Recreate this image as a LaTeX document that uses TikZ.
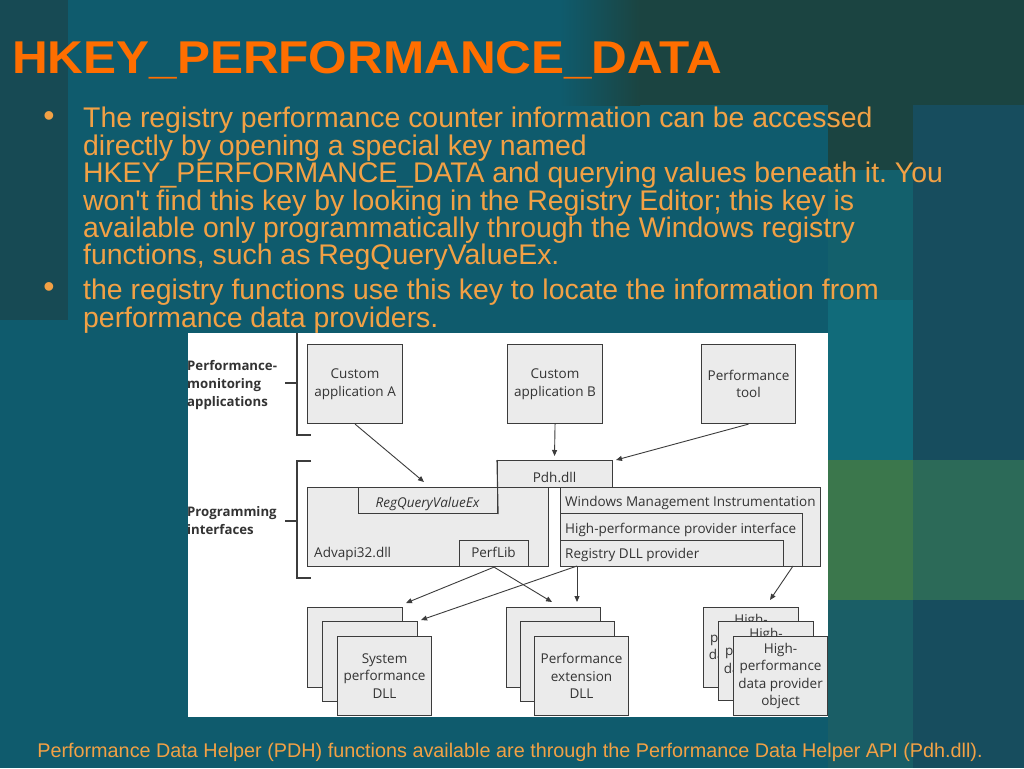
\documentclass[tikz,border=0pt]{standalone}
\usepackage{fontspec}
\usepackage{graphicx}
\setmainfont{Liberation Sans}[Ligatures=TeXOff]
\newfontfamily\dfont{Open Sans}
\usetikzlibrary{arrows.meta,calc}
\definecolor{bgbase}{HTML}{0F5B6D}
\definecolor{bgleft}{HTML}{174A54}
\definecolor{bgtopr}{HTML}{1B4441}
\definecolor{bgstrip}{HTML}{174D5E}
\definecolor{bgteal}{HTML}{13606C}
\definecolor{bglight}{HTML}{116B7A}
\definecolor{bggreen}{HTML}{3B774C}
\definecolor{bggreen2}{HTML}{2C6A58}
\definecolor{bglow}{HTML}{1A5E66}
\definecolor{titleor}{HTML}{FF6E00}
\definecolor{bodyor}{HTML}{F2A145}
\definecolor{boxfill}{HTML}{EBEBEB}
\definecolor{boxline}{HTML}{3C3C3C}
\definecolor{txtgray}{HTML}{333333}
\frenchspacing
\begin{document}
\begin{tikzpicture}[x=1pt,y=-1pt,
  box/.style={draw=boxline, fill=boxfill, line width=1.1pt, inner sep=0pt,
    anchor=north west, align=center, text=txtgray,
    font=\dfont\fontsize{13.5}{17.5}\selectfont},
  bx/.style 2 args={box, minimum width=#1, minimum height=#2},
  lbl/.style={inner sep=0pt, anchor=base west, text=txtgray,
    font=\dfont\fontsize{13.5}{17.5}\selectfont},
  side/.style={inner sep=0pt, anchor=west, align=left, text=txtgray,
    font=\dfont\bfseries\fontsize{13.2}{18}\selectfont},
  brk/.style={draw=boxline, line width=1.1pt},
  arr/.style={draw=boxline, line width=0.9pt, -{Triangle[length=6pt,width=5pt]}},
  body/.style={inner sep=0pt, anchor=base west, text=bodyor,
    font=\fontsize{28.4}{28.4}\selectfont},
  bul/.style={inner sep=0pt, text=bodyor, font=\fontsize{32}{32}\selectfont}]
\useasboundingbox (0,0) rectangle (1024,768);
% ---------- background ----------
\fill[bgbase] (0,0) rectangle (1024,768);
\fill[bgleft] (0,0) rectangle (68,320);
\fill[bgtopr] (640,0) rectangle (1024,105);
\fill[left color=bgbase, right color=bgtopr] (560,0) rectangle (640,105);
\fill[bgstrip] (913,105) rectangle (1024,768);
\fill[bgtopr] (828,105) rectangle (913,170);
\fill[bgteal] (828,170) rectangle (913,300);
\fill[bglight] (828,300) rectangle (913,460);
\fill[bggreen] (828,460) rectangle (913,600);
\fill[bggreen2] (913,460) rectangle (1024,600);
\fill[bglow] (828,600) rectangle (913,768);
% ---------- title and text ----------
\node[inner sep=0pt, anchor=base west, text=titleor,
  font=\bfseries\fontsize{46}{46}\selectfont] (title) at (12,73)
  {\scalebox{1.075}[1]{HKEY\_PERFORMANCE\_DATA}};
\node[bul] (b1) at (49,119) {•};
\node[bul] (b2) at (49,290) {•};
\node[body] (l1) at (83,127) {The registry performance counter information can be accessed};
\node[body] (l2) at (83,155) {directly by opening a special key named};
\node[body] (l3) at (83,182) {HKEY\_PERFORMANCE\_DATA and querying values beneath it. You};
\node[body] (l4) at (83,210) {won't find this key by looking in the Registry Editor; this key is};
\node[body] (l5) at (83,237) {available only programmatically through the Windows registry};
\node[body] (l6) at (83,264) {functions, such as RegQueryValueEx.};
\node[body] (l7) at (83,299) {the registry functions use this key to locate the information from};
\node[body] (l8) at (83,327) {performance data providers.};
\node[inner sep=0pt, anchor=base, text=bodyor, font=\fontsize{19.8}{19.8}\selectfont]
  (foot) at (510,757) {Performance Data Helper (PDH) functions available are through the Performance Data Helper API (Pdh.dll).};
% ---------- diagram ----------
\fill[white] (188,333) rectangle (828,717);
% brackets
\coordinate (k1a) at (297,333); \coordinate (k1b) at (297,435); \coordinate (k1c) at (311,435);
\coordinate (k1m) at (297,383); \coordinate (k1n) at (285,383);
\draw[brk] (k1a) -- (k1b) -- (k1c);
\draw[brk] (k1m) -- (k1n);
\coordinate (k2t) at (311,461); \coordinate (k2a) at (297,461); \coordinate (k2b) at (297,578);
\coordinate (k2c) at (311,578); \coordinate (k2m) at (297,521); \coordinate (k2n) at (285,521);
\draw[brk] (k2t) -- (k2a) -- (k2b) -- (k2c);
\draw[brk] (k2m) -- (k2n);
\node[side] (sl1) at (187,385) {Performance-\\monitoring\\applications};
\node[side] (sl2) at (187,521) {Programming\\interfaces};
% top applications
\node[bx={95}{79}] (appA) at (307,344) {Custom\\application A};
\node[bx={95}{79}] (appB) at (507,344) {Custom\\application B};
\node[bx={94}{79}] (ptool) at (701,344) {Performance\\tool};
% programming interfaces
\node[bx={115}{27}] (pdh) at (497,460) {};
\node[bx={241}{79}] (adv) at (307,487) {};
\node[bx={260}{79}] (wmi) at (560,487) {};
\node[bx={242}{53}] (hpi) at (560,513) {};
\node[bx={223}{26}] (regdll) at (560,540) {};
\node[bx={69}{26}] (perflib) at (459,540) {};
\node[bx={139}{26}] (regq) at (358,487) {};
\draw[boxline, line width=1.1pt] (pdh.north west) -- (regq.south east);
\node[lbl, anchor=base] (pdhl) at (554.5,482) {Pdh.dll};
\node[lbl, anchor=base] (regql) at (427.5,507) {\itshape RegQueryValueEx};
\node[lbl] (advl) at (314,557) {Advapi32.dll};
\node[lbl, anchor=base] (perfl) at (493.5,557) {PerfLib};
\node[lbl] (wmil) at (565,506) {Windows Management Instrumentation};
\node[lbl] (hpil) at (565,533) {High-performance provider interface};
\node[lbl] (regdl) at (565,558) {Registry DLL provider};
% provider stacks
\node[bx={95}{80}] (sys1) at (307,607) {};
\node[bx={95}{80}] (sys2) at (322,621) {};
\node[bx={94}{79}] (sys3) at (337,636) {System\\performance\\DLL};
\node[bx={94}{80}] (ext1) at (506,607) {};
\node[bx={94}{80}] (ext2) at (520,621) {};
\node[bx={94}{79}] (ext3) at (534,636) {Performance\\extension\\DLL};
\node[bx={95}{80}] (hp1) at (703,607) {High-\\performance\\data provider\\object};
\node[bx={95}{79}] (hp2) at (718,621) {High-\\performance\\data provider\\object};
\node[bx={94}{79}] (hp3) at (733,636) {High-\\performance\\data provider\\object};
% arrows
\coordinate (tA) at (424,482);
\coordinate (tB) at (554.5,456);
\coordinate (tC) at (616,460);
\coordinate (tD) at (406,603);
\coordinate (tE) at (552,602);
\coordinate (sR) at (577,566);
\coordinate (tF) at (421,620);
\coordinate (tG) at (577,602);
\coordinate (sH) at (793,566);
\coordinate (tH) at (770,600);
\draw[arr] (appA.south) -- (tA);
\draw[arr] (appB.south) -- (tB);
\draw[arr] (ptool.south) -- (tC);
\draw[arr] (perflib.south) -- (tD);
\draw[arr] (perflib.south) -- (tE);
\draw[arr] (sR) -- (tF);
\draw[arr] (sR) -- (tG);
\draw[arr] (sH) -- (tH);
\end{tikzpicture}
\end{document}
